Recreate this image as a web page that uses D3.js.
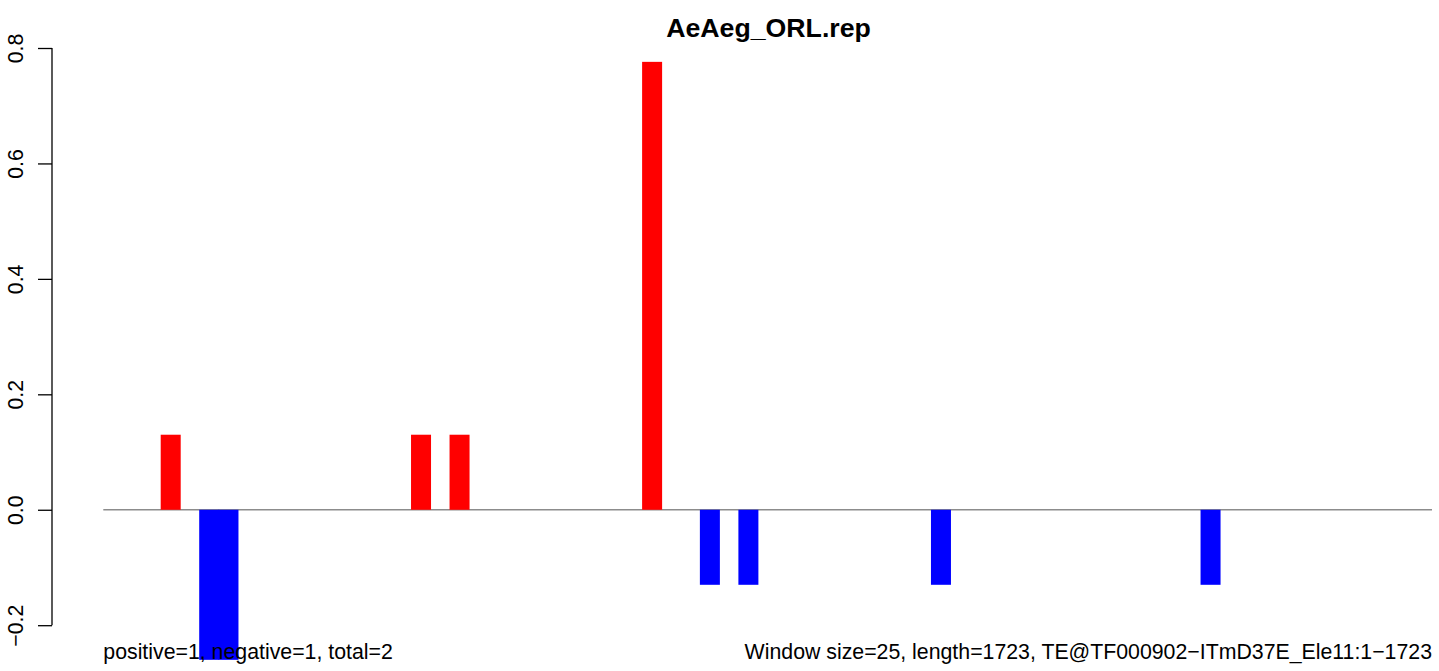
<!DOCTYPE html>
<html><head><meta charset="utf-8">
<script src="https://cdn.jsdelivr.net/npm/d3@7"></script>
<style>body{margin:0;background:#fff}svg{display:block}text{font-family:"Liberation Sans",Arial,sans-serif}</style>
</head><body>
<svg id="c" width="1439" height="671"></svg>
<script>
const title = "AeAeg_ORL.rep";
const nWindows = 69;
const windowIndex = [4, 6, 7, 17, 19, 29, 32, 34, 44, 58];
const values = [0.13, -0.26, -0.26, 0.13, 0.13, 0.776, -0.13, -0.13, -0.13, -0.13];
const yTicks = [-0.2, 0, 0.2, 0.4, 0.6, 0.8];
const leftNote = "positive=1, negative=1, total=2";
const rightNote = "Window size=25, length=1723, TE@TF000902\u2212ITmD37E_Ele11:1\u22121723";

const svg = d3.select("#c");
const x = d3.scaleLinear().domain([0, nWindows]).range([103.3, 1432]);
const y = d3.scaleLinear().domain([-0.2, 0.8]).range([625.2, 48]);
const barW = 20;

svg.append("line").attr("x1", x(0)).attr("x2", x(nWindows)).attr("y1", y(0)).attr("y2", y(0))
  .attr("stroke", "#8c8c8c").attr("stroke-width", 1.3);

svg.selectAll("rect.bar").data(values).join("rect").attr("class", "bar")
  .attr("x", (d, i) => x(windowIndex[i] - 0.5) - barW / 2)
  .attr("width", barW)
  .attr("y", d => Math.min(y(d), y(0)))
  .attr("height", d => Math.abs(y(d) - y(0)))
  .attr("fill", d => d > 0 ? "#ff0000" : "#0000ff");

const axis = d3.axisLeft(y).tickValues(yTicks).tickSize(14).tickPadding(0)
  .tickFormat(d => d3.format(".1f")(d).replace("-", "\u2212"));
const g = svg.append("g").attr("transform", "translate(52,0)").call(axis);
g.select(".domain").attr("stroke", "#000").attr("stroke-width", 1.3).attr("d", `M0,${y(-0.2)}V${y(0.8)}`);
g.selectAll(".tick line").attr("stroke", "#000").attr("stroke-width", 1.3);
g.selectAll(".tick text").attr("font-size", 21.3).attr("fill", "#000")
  .attr("text-anchor", "middle").attr("dy", 0)
  .attr("transform", "translate(-29,0) rotate(-90)").attr("x", 0).attr("y", 0);

svg.append("text").attr("x", 768.5).attr("y", 37).attr("text-anchor", "middle")
  .attr("font-size", 26.7).attr("font-weight", "bold").text(title);
svg.append("text").attr("x", x(0)).attr("y", 659).attr("font-size", 21.3).text(leftNote);
svg.append("text").attr("x", x(nWindows)).attr("y", 659).attr("text-anchor", "end").attr("font-size", 21.3).text(rightNote);
</script>
</body></html>
